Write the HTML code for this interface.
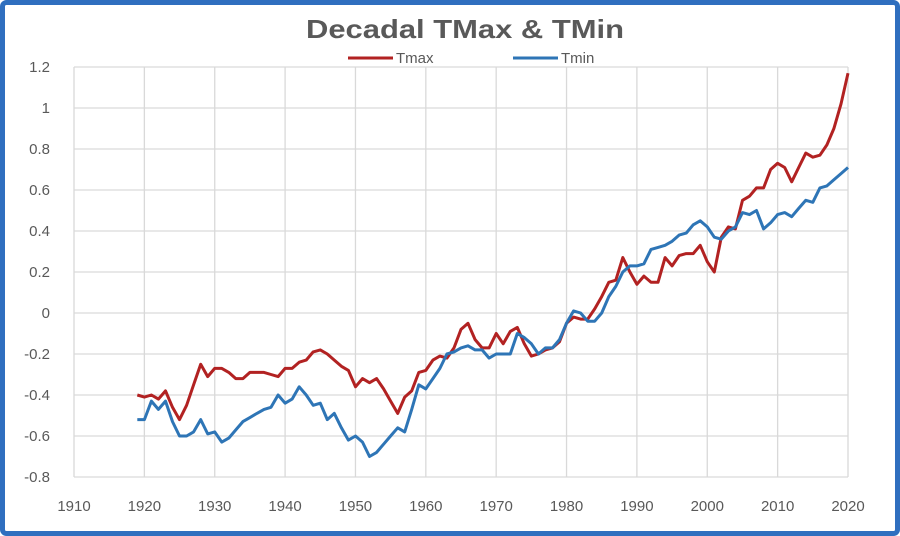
<!DOCTYPE html>
<html><head><meta charset="utf-8"><style>
html,body{margin:0;padding:0;background:#fff;}
svg{display:block;font-family:"Liberation Sans",Arial,sans-serif;}
</style></head><body>
<svg id="chart" width="900" height="536" viewBox="0 0 900 536">
<rect x="2.5" y="2.5" width="895" height="531" rx="4" fill="#fff" stroke="#2F6FBF" stroke-width="5"/>
<text x="465" y="38" text-anchor="middle" font-size="26" font-weight="bold" fill="#595959" textLength="318" lengthAdjust="spacingAndGlyphs">Decadal TMax &amp; TMin</text>
<g>
<g><line x1="348" y1="58" x2="393" y2="58" stroke="#B22222" stroke-width="3"/><text x="396" y="63" font-size="15" fill="#595959">Tmax</text></g>
<g><line x1="513" y1="58" x2="558" y2="58" stroke="#2E75B6" stroke-width="3"/><text x="561" y="63" font-size="15" fill="#595959">Tmin</text></g>
</g>
<g id="grid"></g>
<g id="yticks"></g>
<g id="xticks"></g>
<g id="series"></g>
</svg>
<script>
const startYear = 1919;
const tmax = [-0.40,-0.41,-0.40,-0.42,-0.38,-0.46,-0.52,-0.45,-0.35,-0.25,-0.31,-0.27,-0.27,-0.29,-0.32,-0.32,-0.29,-0.29,-0.29,-0.30,-0.31,-0.27,-0.27,-0.24,-0.23,-0.19,-0.18,-0.20,-0.23,-0.26,-0.28,-0.36,-0.32,-0.34,-0.32,-0.37,-0.43,-0.49,-0.41,-0.38,-0.29,-0.28,-0.23,-0.21,-0.22,-0.17,-0.08,-0.05,-0.13,-0.17,-0.17,-0.10,-0.15,-0.09,-0.07,-0.15,-0.21,-0.20,-0.18,-0.17,-0.14,-0.05,-0.02,-0.03,-0.03,0.02,0.08,0.15,0.16,0.27,0.20,0.14,0.18,0.15,0.15,0.27,0.23,0.28,0.29,0.29,0.33,0.25,0.20,0.37,0.42,0.41,0.55,0.57,0.61,0.61,0.70,0.73,0.71,0.64,0.71,0.78,0.76,0.77,0.82,0.90,1.02,1.17];
const tmin = [-0.52,-0.52,-0.43,-0.47,-0.43,-0.53,-0.60,-0.60,-0.58,-0.52,-0.59,-0.58,-0.63,-0.61,-0.57,-0.53,-0.51,-0.49,-0.47,-0.46,-0.40,-0.44,-0.42,-0.36,-0.40,-0.45,-0.44,-0.52,-0.49,-0.56,-0.62,-0.60,-0.63,-0.70,-0.68,-0.64,-0.60,-0.56,-0.58,-0.47,-0.35,-0.37,-0.32,-0.27,-0.20,-0.19,-0.17,-0.16,-0.18,-0.18,-0.22,-0.20,-0.20,-0.20,-0.10,-0.12,-0.15,-0.20,-0.17,-0.17,-0.13,-0.05,0.01,0.00,-0.04,-0.04,0.00,0.08,0.13,0.20,0.23,0.23,0.24,0.31,0.32,0.33,0.35,0.38,0.39,0.43,0.45,0.42,0.37,0.36,0.40,0.42,0.49,0.48,0.50,0.41,0.44,0.48,0.49,0.47,0.51,0.55,0.54,0.61,0.62,0.65,0.68,0.71];
const xTicks = [1910,1920,1930,1940,1950,1960,1970,1980,1990,2000,2010,2020];
const yTicks = [1.2,1,0.8,0.6,0.4,0.2,0,-0.2,-0.4,-0.6,-0.8];

const NS = "http://www.w3.org/2000/svg";
const x = yr => 74 + (yr - 1910) * (848 - 74) / 110;
const y = v => 313 - v * 205;
function mk(tag, attrs, parent){const e=document.createElementNS(NS,tag);for(const k in attrs)e.setAttribute(k,attrs[k]);parent.appendChild(e);return e;}
const grid=document.getElementById('grid'), yt=document.getElementById('yticks'), xt=document.getElementById('xticks'), ser=document.getElementById('series');
yTicks.forEach(v=>{
  const l=mk('line',{x1:74,x2:848,y1:y(v),y2:y(v),stroke:'#D9D9D9','stroke-width':1.3},grid);
  
  
  const t=mk('text',{x:50,y:y(v)+5,'text-anchor':'end','font-size':15,fill:'#595959'},yt);
  t.textContent=String(v);
  
  
});
xTicks.forEach(yr=>{
  const l=mk('line',{x1:x(yr),x2:x(yr),y1:y(1.2),y2:y(-0.8),stroke:'#D9D9D9','stroke-width':1.3},grid);
  
  
  const t=mk('text',{x:x(yr),y:511,'text-anchor':'middle','font-size':15,fill:'#595959'},xt);
  t.textContent=String(yr);
  
  
});
function line(data,color,name){
  const pts=data.map((v,i)=>x(startYear+i).toFixed(1)+','+y(v).toFixed(1)).join(' ');
  const p=mk('polyline',{points:pts,fill:'none',stroke:color,'stroke-width':3,'stroke-linejoin':'round'},ser);
  
  
}
line(tmax,'#B22222','tmax-line');
line(tmin,'#2E75B6','tmin-line');
</script>
</body></html>
